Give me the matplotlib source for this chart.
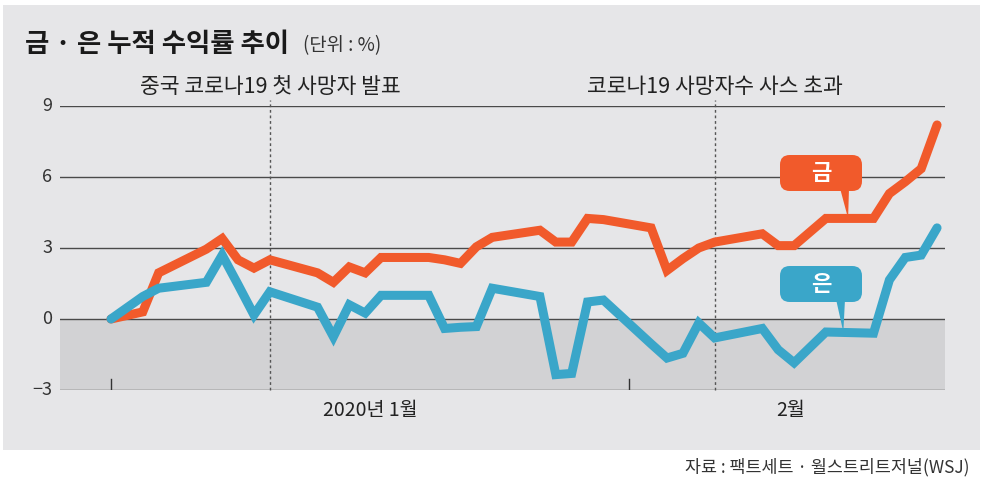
import matplotlib
matplotlib.use("Agg")
import matplotlib.pyplot as plt
from matplotlib.patches import FancyBboxPatch, Polygon
import numpy as np

plt.rcParams['font.family'] = ['Noto Sans CJK KR', 'DejaVu Sans']

# trading days counted from 2019-12-31 (day 0)
days = [0, 2, 3, 6, 7, 8, 9, 10, 13, 14, 15, 16, 17, 20, 21, 22, 23, 24,
        27, 28, 29, 30, 31, 34, 35, 36, 37, 38, 41, 42, 43, 45, 48, 49, 50, 51, 52]
gold = [0.0, 0.3, 1.95, 2.95, 3.4, 2.5, 2.15, 2.5, 1.95, 1.55, 2.2, 1.95, 2.6,
        2.6, 2.5, 2.35, 3.05, 3.45, 3.75, 3.25, 3.25, 4.25, 4.2, 3.85, 2.05,
        2.55, 3.0, 3.25, 3.6, 3.1, 3.1, 4.25, 4.25, 5.3, 5.8, 6.35, 8.2]
silver = [0.0, 0.95, 1.3, 1.55, 2.7, 1.45, 0.17, 1.15, 0.5, -0.75, 0.6, 0.25,
          1.0, 1.0, -0.4, -0.35, -0.32, 1.3, 0.95, -2.35, -2.3, 0.72, 0.8,
          -1.05, -1.65, -1.45, -0.17, -0.8, -0.4, -1.3, -1.85, -0.55, -0.6,
          1.65, 2.6, 2.7, 3.85]
yticks = [9, 6, 3, 0, -3]
month_ticks = [0, 32.6]
month_labels = ["2020년 1월", "2월"]
month_label_pos = [16.3, 42.8]
events = [10, 38]
event_labels = ["중국 코로나19 첫 사망자 발표", "코로나19 사망자수 사스 초과"]

W, H = 987, 486
fig = plt.figure(figsize=(W / 100, H / 100), dpi=100)
fig.patch.set_facecolor("white")

# panel background
bg = fig.add_axes([3 / W, 1 - 450 / H, 977 / W, 445 / H], zorder=-10)
bg.set_facecolor("#e6e6e8")
bg.set_xticks([])
bg.set_yticks([])
for s in bg.spines.values():
    s.set_visible(False)

ax = fig.add_axes([60 / W, 1 - 390 / H, 885 / W, 284 / H], zorder=1)
ax.set_facecolor("none")
ax.set_xlim(-3.21, 52.5)
ax.set_ylim(-3, 9)
for s in ax.spines.values():
    s.set_visible(False)
ax.set_xticks([])
ax.set_yticks([])

# shaded negative region
ax.axhspan(-3, 0, color="#d2d2d4", zorder=0, lw=0)
for v in yticks:
    ax.axhline(v, color="#4a4a4a", lw=1.0, zorder=1)
    ax.text(-3.21 - 0.5, v, "−3" if v < 0 else str(v), ha="right", va="center",
            fontsize=13, color="#333333")

for e in events:
    ax.plot([e, e], [-3, 9.25], color="#555555", lw=1.0, ls=(0, (2, 2)),
            zorder=1, clip_on=False)

for t in month_ticks:
    ax.plot([t, t], [-3, -2.55], color="#333333", lw=1.0, zorder=1)

for lab, pos in zip(month_labels, month_label_pos):
    ax.text(pos, -3.85, lab, ha="center", va="center", fontsize=14, color="#222222")

for e, lab in zip(events, event_labels):
    ax.text(e, 9.8, lab, ha="center", va="center", fontsize=15.5, color="#222222",
            clip_on=False)

gold_c = "#f15a2b"
silver_c = "#3aa6c9"
ax.plot(days, gold, color=gold_c, lw=6.5, solid_joinstyle="miter",
        solid_capstyle="round", zorder=3, clip_on=False)
ax.plot(days, silver, color=silver_c, lw=6.5, solid_joinstyle="miter",
        solid_capstyle="round", zorder=3, clip_on=False)

# callouts
axw, axh = 885.0, 284.0
aspect = axw / axh
to_axes = ax.transData + ax.transAxes.inverted()


def callout(label, color, box_y0_px, tip_day, tip_val, tail_x_px):
    x0 = (780 - 60) / axw
    w = 82 / axw
    y0 = (390 - box_y0_px) / axh
    h = 36 / axh
    box = FancyBboxPatch((x0, y0), w, h,
                         boxstyle="round,pad=0,rounding_size=0.011",
                         mutation_aspect=aspect, transform=ax.transAxes,
                         facecolor=color, edgecolor="none", zorder=5,
                         clip_on=False)
    ax.add_patch(box)
    tx, ty = to_axes.transform((tip_day, tip_val))
    xa = (tail_x_px - 60) / axw
    tri = Polygon([(xa - 9 / axw, y0 + 0.01), (xa, y0 + 0.01), (tx, ty)],
                  closed=True, transform=ax.transAxes, facecolor=color,
                  edgecolor="none", zorder=5, clip_on=False)
    ax.add_patch(tri)
    ax.text(x0 + w / 2, y0 + h / 2, label, transform=ax.transAxes,
            ha="center", va="center", fontsize=16, fontweight="bold",
            color="white", zorder=6)


i45 = days.index(45)
callout("금", gold_c, 191, 46.4, gold[i45], 849)
callout("은", silver_c, 302, 46.1, silver[i45], 845)

# title and source
fig.text(25 / W, 1 - 44 / H, "금 · 은 누적 수익률 추이", fontsize=19,
         fontweight="bold", color="#1a1a1a", ha="left", va="center")
fig.text(303 / W, 1 - 46 / H, "(단위 : %)", fontsize=13.5, color="#333333",
         ha="left", va="center")
fig.text(970 / W, 1 - 467 / H, "자료 : 팩트세트 · 월스트리트저널(WSJ)",
         fontsize=12.5, color="#333333", ha="right", va="center")

fig.savefig("out.png", dpi=100)
